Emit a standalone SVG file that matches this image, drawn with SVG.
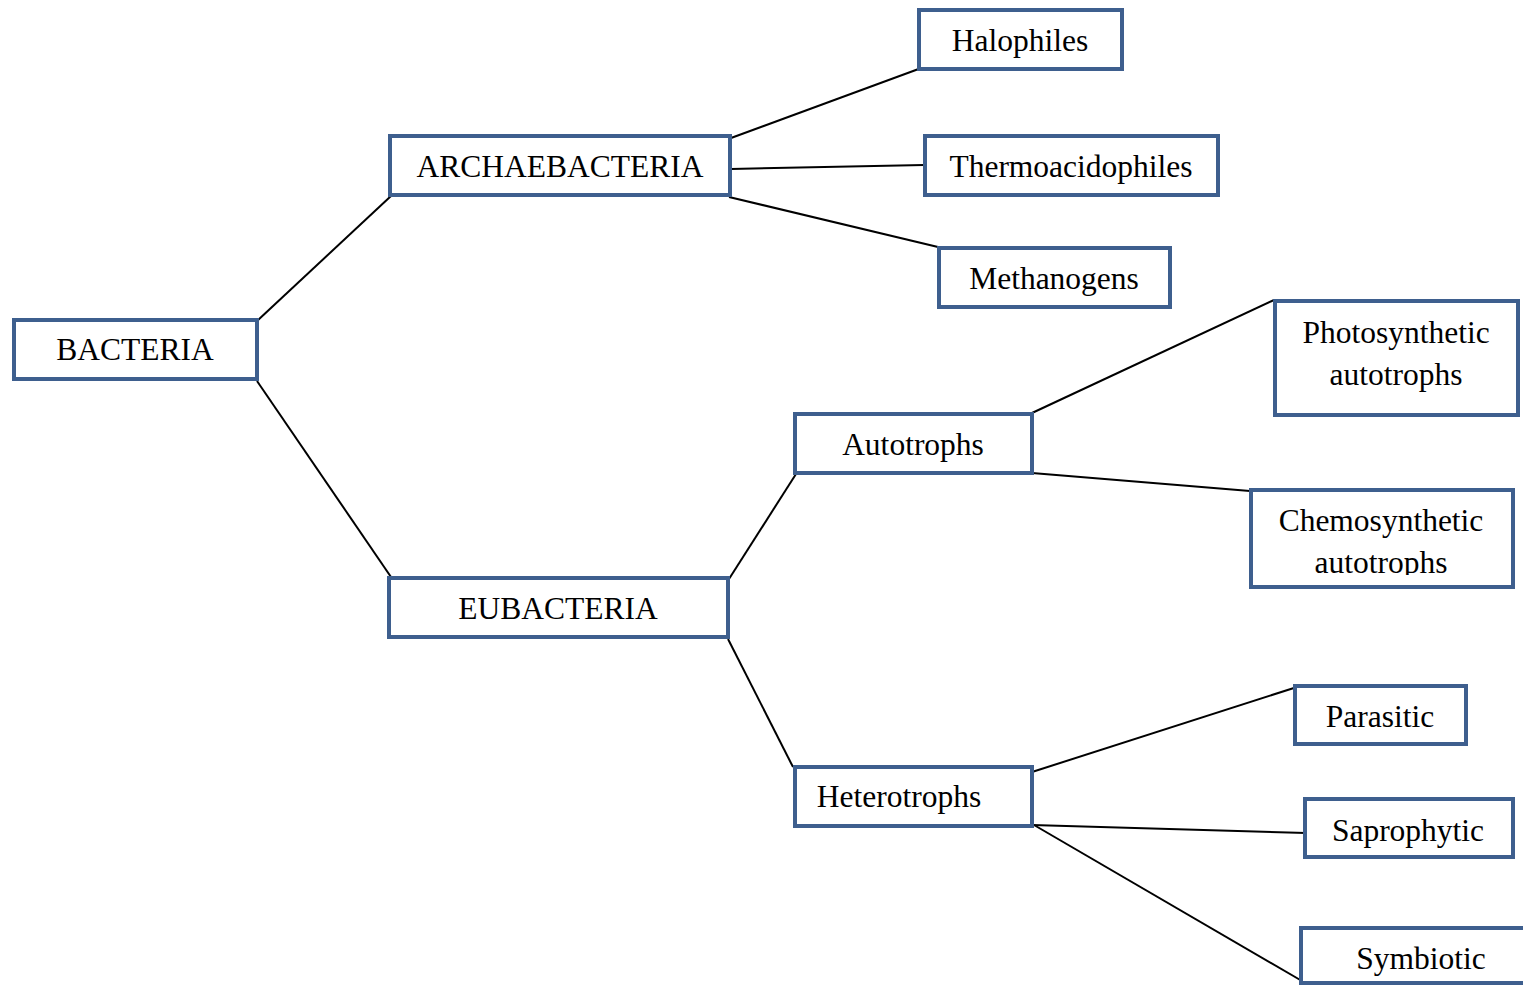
<svg xmlns="http://www.w3.org/2000/svg" width="1523" height="985" viewBox="0 0 1523 985">
  <style>
    .box { fill: #ffffff; stroke: #3e5f8e; stroke-width: 4; }
    .lbl { font-family: "Liberation Serif", "Times New Roman", serif; font-size: 31.5px; fill: #000000; text-anchor: middle; }
    .link { stroke: #000000; stroke-width: 2; fill: none; }
  </style>
  <defs>
    <clipPath id="chemoClip"><rect x="1252" y="491" width="259" height="84"/></clipPath>
  </defs>
  <rect width="1523" height="985" fill="#ffffff"/>

  <!-- connectors -->
  <g id="connectors">
    <line class="link" x1="257" y1="321" x2="391" y2="196"/>
    <line class="link" x1="257" y1="381" x2="391" y2="577"/>
    <line class="link" x1="731" y1="138" x2="924" y2="67"/>
    <line class="link" x1="731" y1="169" x2="924" y2="165"/>
    <line class="link" x1="729" y1="197" x2="938" y2="247"/>
    <line class="link" x1="729" y1="579" x2="796" y2="474"/>
    <line class="link" x1="728" y1="639" x2="793" y2="767"/>
    <line class="link" x1="1032" y1="413" x2="1274" y2="300"/>
    <line class="link" x1="1032" y1="473" x2="1250" y2="491"/>
    <line class="link" x1="1032" y1="772" x2="1297" y2="687"/>
    <line class="link" x1="1032" y1="825" x2="1306" y2="833"/>
    <line class="link" x1="1034" y1="825" x2="1302" y2="981"/>
  </g>

  <g id="bacteria">
    <rect class="box" x="14" y="320" width="243" height="59"/>
    <text class="lbl" x="135" y="360">BACTERIA</text>
  </g>
  <g id="archaebacteria">
    <rect class="box" x="390" y="136" width="340" height="59"/>
    <text class="lbl" x="560" y="177">ARCHAEBACTERIA</text>
  </g>
  <g id="eubacteria">
    <rect class="box" x="389" y="578" width="339" height="59"/>
    <text class="lbl" x="558" y="619">EUBACTERIA</text>
  </g>
  <g id="halophiles">
    <rect class="box" x="919" y="10" width="203" height="59"/>
    <text class="lbl" x="1020" y="51">Halophiles</text>
  </g>
  <g id="thermoacidophiles">
    <rect class="box" x="925" y="136" width="293" height="59"/>
    <text class="lbl" x="1071" y="177">Thermoacidophiles</text>
  </g>
  <g id="methanogens">
    <rect class="box" x="939" y="248" width="231" height="59"/>
    <text class="lbl" x="1054" y="289">Methanogens</text>
  </g>
  <g id="autotrophs">
    <rect class="box" x="795" y="414" width="237" height="59"/>
    <text class="lbl" x="913" y="455">Autotrophs</text>
  </g>
  <g id="heterotrophs">
    <rect class="box" x="795" y="767" width="237" height="59"/>
    <text class="lbl" x="899" y="807">Heterotrophs</text>
  </g>
  <g id="photosynthetic">
    <rect class="box" x="1275" y="301" width="243" height="114"/>
    <text class="lbl" x="1396" y="343">Photosynthetic</text>
    <text class="lbl" x="1396" y="385">autotrophs</text>
  </g>
  <g id="chemosynthetic">
    <rect class="box" x="1251" y="490" width="262" height="97"/>
    <g clip-path="url(#chemoClip)">
      <text class="lbl" x="1381" y="531">Chemosynthetic</text>
      <text class="lbl" x="1381" y="573">autotrophs</text>
    </g>
  </g>
  <g id="parasitic">
    <rect class="box" x="1295" y="686" width="171" height="58"/>
    <text class="lbl" x="1380" y="727">Parasitic</text>
  </g>
  <g id="saprophytic">
    <rect class="box" x="1305" y="799" width="208" height="58"/>
    <text class="lbl" x="1408" y="841">Saprophytic</text>
  </g>
  <g id="symbiotic">
    <rect class="box" x="1301" y="928" width="260" height="55"/>
    <text class="lbl" x="1421" y="969">Symbiotic</text>
  </g>
</svg>
